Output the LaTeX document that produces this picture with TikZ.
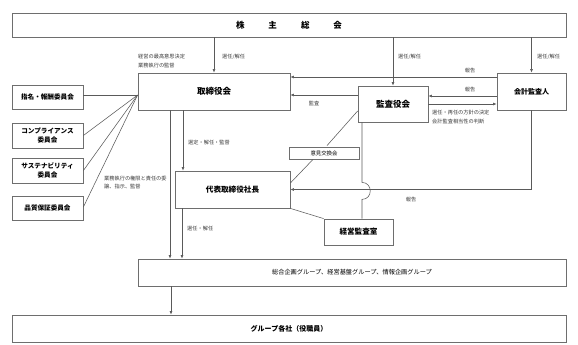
\documentclass[tikz,border=0pt]{standalone}
\usepackage{fontspec}
\setmainfont{Noto Sans CJK JP}
\usetikzlibrary{arrows.meta,calc}
\definecolor{boxc}{HTML}{6E6E6E}
\definecolor{linec}{HTML}{5A5A5A}
\definecolor{lblc}{HTML}{3A3A3A}
\begin{document}
\begin{tikzpicture}[x=1pt,y=-1pt,
  box/.style={draw=boxc, line width=0.8pt, fill=white, inner sep=0pt, align=center, text=black},
  bigtxt/.style={font=\bfseries\fontsize{8.5}{9}\selectfont},
  midtxt/.style={font=\bfseries\fontsize{6.6}{9}\selectfont},
  conn/.style={draw=linec, line width=0.55pt},
  arr/.style={conn, -{Latex[length=3.4pt,width=2.8pt]}},
  lbl/.style={font=\fontsize{5.2}{9}\selectfont, text=lblc, inner sep=0pt, align=left, anchor=west},
  clbl/.style={font=\fontsize{5.2}{9}\selectfont, text=lblc, inner sep=0pt}]
\useasboundingbox (0,0) rectangle (578,345);
% boxes
\node[box, bigtxt, minimum width=554pt, minimum height=24pt] (sh) at (289,25) {株\hspace{24pt}主\hspace{24pt}総\hspace{24pt}会};
\node[box, bigtxt, minimum width=152pt, minimum height=37pt] (bod) at (214,91.5) {取締役会};
\node[box, bigtxt, minimum width=70pt, minimum height=36pt] (kan) at (393,104) {監査役会};
\node[box, midtxt, font=\bfseries\fontsize{7}{9}\selectfont, minimum width=69pt, minimum height=37pt] (kai) at (531.5,91.5) {会計監査人};
\node[box, midtxt, minimum width=71pt, minimum height=24pt] (c1) at (47.5,97) {指名・報酬委員会};
\node[box, midtxt, minimum width=71pt, minimum height=25pt, font=\bfseries\fontsize{6.6}{8.5}\selectfont] (c2) at (47.5,135.5) {コンプライアンス\\委員会};
\node[box, midtxt, minimum width=71pt, minimum height=25pt, font=\bfseries\fontsize{6.6}{8.5}\selectfont] (c3) at (47.5,170.5) {サステナビリティ\\委員会};
\node[box, midtxt, minimum width=71pt, minimum height=24pt] (c4) at (47.5,208) {品質保証委員会};
\node[box, bigtxt, font=\bfseries\fontsize{7.6}{9}\selectfont, minimum width=115pt, minimum height=37pt] (dai) at (232.5,189.5) {代表取締役社長};
\node[box, font=\fontsize{5.4}{6}\selectfont, minimum width=70pt, minimum height=12pt] (iken) at (324,153) {意見交換会};
\node[box, bigtxt, font=\bfseries\fontsize{7.6}{9}\selectfont, minimum width=69pt, minimum height=26pt] (kansa) at (358.5,232) {経営監査室};
\node[box, font=\fontsize{6.2}{8}\selectfont, minimum width=428pt, minimum height=27pt] (sogo) at (352,272.5) {総合企画グループ、経営基盤グループ、情報企画グループ};
\node[box, midtxt, font=\bfseries\fontsize{7}{9}\selectfont, minimum width=554pt, minimum height=27pt] (grp) at (289,328.5) {グループ各社（役職員）};
% connectors from shareholders
\draw[arr] (sh.south -| bod.north) -- (bod.north);
\draw[arr] (sh.south -| kan.north) -- (kan.north);
\draw[arr] (sh.south -| kai.north) -- (kai.north);
% horizontal arrows
\draw[arr] ($(kai.west)+(0,-14.5)$) coordinate (p1) -- (bod.east |- p1);
\draw[arr] ($(kan.west)+(0,-9)$) coordinate (p2) -- (bod.east |- p2);
\draw[arr] ($(kai.west)+(0,4.5)$) coordinate (p3) -- (kan.east |- p3);
\draw[arr] (kan.east) -- (kai.west |- kan.east);
% committees
\coordinate (conv) at ($(bod.west)+(0,3.5)$);
\draw[conn] (c1.east |- conv) -- (conv);
\draw[conn] (c2.east) -- (conv);
\draw[conn] (c3.east) -- (conv);
\draw[conn] ($(c4.east)+(0,-1)$) -- (conv);
% down from board
\draw[arr] ($(bod.south)+(-44,0)$) coordinate (p4) -- (sogo.north -| p4);
\draw[arr] ($(bod.south)+(-31,0)$) coordinate (p5) -- (dai.north -| p5);
\draw[arr] ($(dai.south)+(-50.5,0)$) coordinate (p6) -- (sogo.north -| p6);
\draw[arr] ($(sogo.south)+(-181,0)$) coordinate (p7) -- (grp.north -| p7);
% auditor report to president
\draw[arr] (kai.south) |- (dai.east);
% audit board - opinion exchange - president
\draw[conn] ($(kan.west)+(0,7)$) -- ($(iken.north)+(3,-1)$);
\draw[conn] ($(iken.south)+(-11,0)$) -- ($(dai.east)+(0,-6.5)$);
% audit board to internal audit (with hop)
\draw[conn] ($(kan.south)+(-31,0)$) coordinate (h0) -- ($(h0)+(0,60)$) .. controls +(11,0) and +(11,0) .. ($(h0)+(0,77)$) -- (kansa.north -| h0);
% president to internal audit
\draw[conn] (dai.south east) -- (kansa.north west);
% labels
\node[lbl] (l1) at (138,61) {経営の最高意思決定\\業務執行の監督};
\node[lbl] (l2) at (222,57) {選任/解任};
\node[lbl] (l3) at (398,57) {選任/解任};
\node[lbl] (l4) at (537,57) {選任/解任};
\node[clbl] (l5) at (470,71) {報告};
\node[clbl] (l6) at (470,90) {報告};
\node[clbl] (l7) at (314,103) {監査};
\node[lbl] (l8) at (432,117.5) {選任・再任の方針の決定\\会計監査相当性の判断};
\node[lbl] (l9) at (188,143) {選定・解任・監督};
\node[lbl, font=\fontsize{5.2}{8}\selectfont] (l10) at (104,183) {業務執行の権限と責任の委\\譲、指示、監督};
\node[lbl] (l11) at (187,229) {選任・解任};
\node[clbl] (l12) at (411,200) {報告};
\end{tikzpicture}
\end{document}
